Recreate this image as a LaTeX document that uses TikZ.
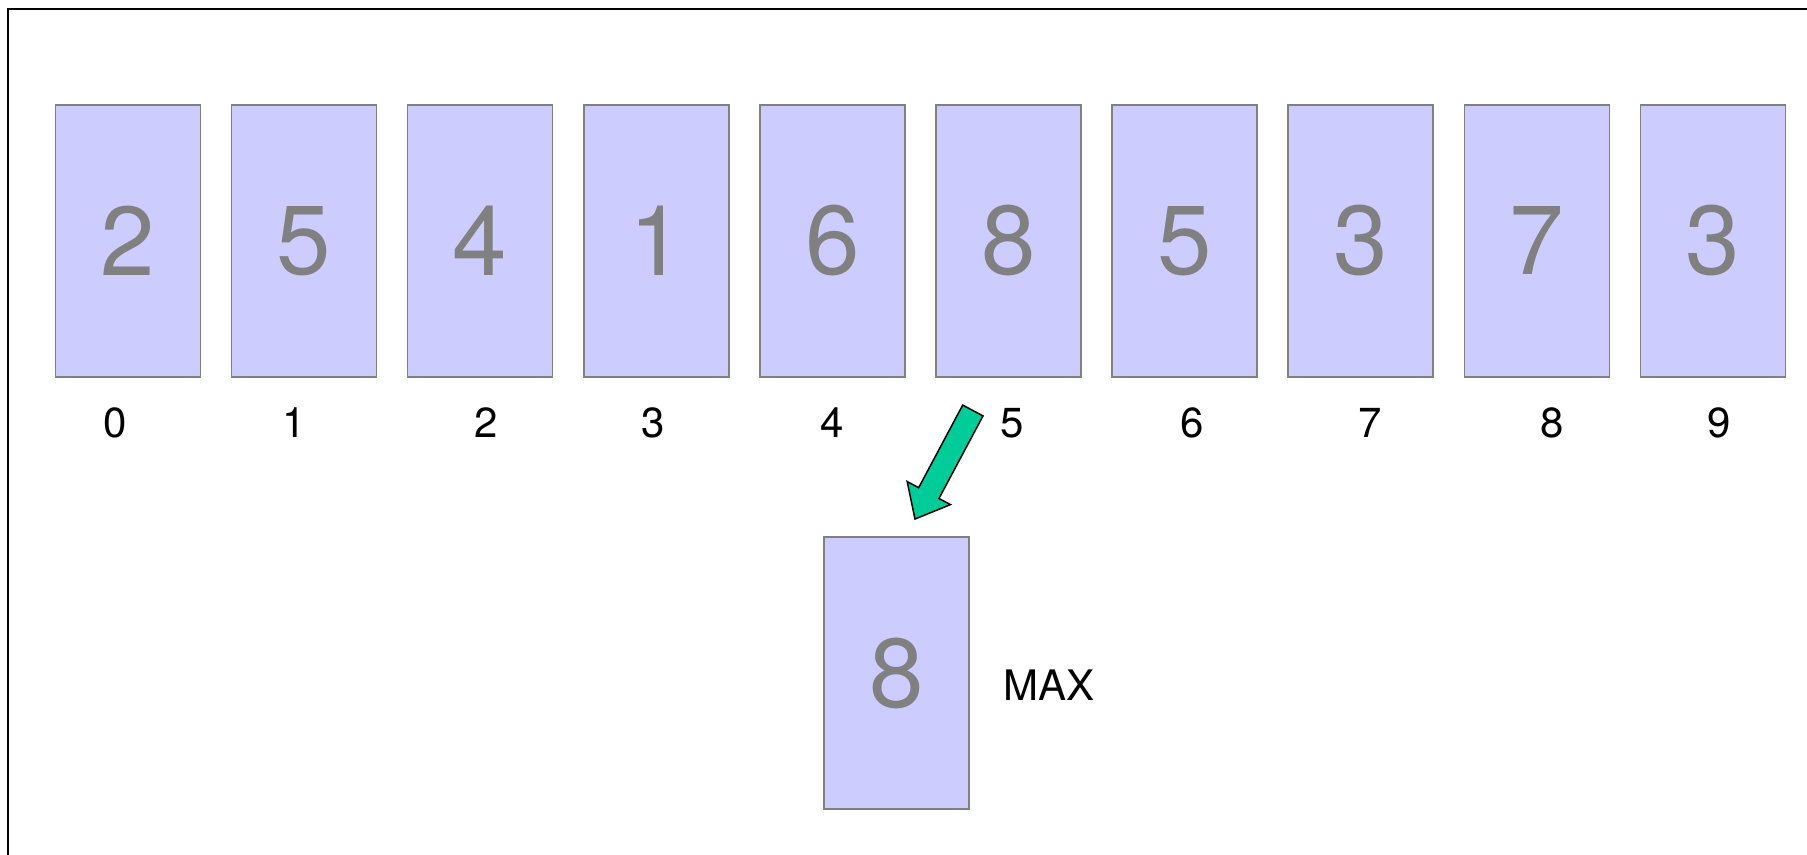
\documentclass[tikz,border=0pt]{standalone}
\usepackage{fontspec}
\setmainfont{TeX Gyre Heros}
\usepackage{tikz}
\usepackage{xcolor}
\definecolor{cellfill}{HTML}{CCCCFF}
\definecolor{cellline}{HTML}{808080}
\definecolor{arrowfill}{HTML}{00CC99}

\begin{document}
\begin{tikzpicture}[x=1pt,y=1pt,
  cell/.style={draw=cellline,fill=cellfill,line width=1.5pt,minimum width=145pt,minimum height=272pt,inner sep=0pt,text=cellline,font=\fontsize{98}{98}\selectfont},
  idx/.style={font=\fontsize{42}{42}\selectfont,inner sep=0pt}]
\useasboundingbox (0,0) rectangle (1807,854);
\draw[line width=2pt] (8,-20)--(8,845)--(1830,845);
\node[cell] (c0) at (128,613) {2};
\node[cell] (c1) at (304.1,613) {5};
\node[cell] (c2) at (480.2,613) {4};
\node[cell] (c3) at (656.3,613) {1};
\node[cell] (c4) at (832.4,613) {6};
\node[cell] (c5) at (1008.5,613) {8};
\node[cell] (c6) at (1184.6,613) {5};
\node[cell] (c7) at (1360.7,613) {3};
\node[cell] (c8) at (1536.8,613) {7};
\node[cell] (c9) at (1712.9,613) {3};
\node[idx] (i0) at (115,431) {0};
\node[idx] (i1) at (294,431) {1};
\node[idx] (i2) at (486,431) {2};
\node[idx] (i3) at (653,431) {3};
\node[idx] (i4) at (832,431) {4};
\node[idx] (i5) at (1012,431) {5};
\node[idx] (i6) at (1192,431) {6};
\node[idx] (i7) at (1370,431) {7};
\node[idx] (i8) at (1552,431) {8};
\node[idx] (i9) at (1719,431) {9};
\node[cell] (mx) at (896.5,181) {8};
\node[idx] (mxlabel) at (1049,169) {MAX};
\coordinate (atail) at (972.85,443.5);
\begin{scope}[shift={(atail)},rotate=-118.07]
\filldraw[fill=arrowfill,draw=black,line width=1.5pt,line join=miter]
  (0,-11.5)--(93.6,-11.5)--(93.6,-24.5)--(123,0)--(93.6,24.5)--(93.6,11.5)--(0,11.5)--cycle;
\end{scope}
\end{tikzpicture}
\end{document}
